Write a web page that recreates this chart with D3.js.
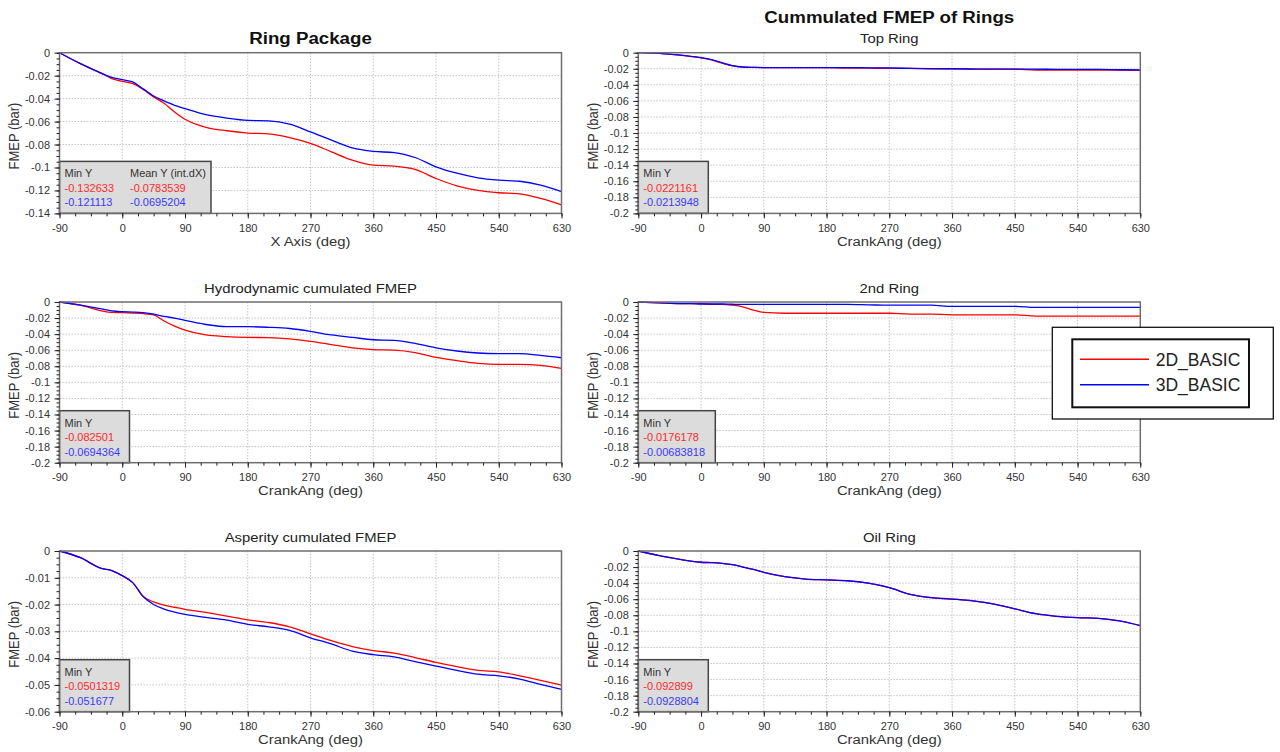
<!DOCTYPE html>
<html>
<head>
<meta charset="utf-8">
<script src="https://cdn.jsdelivr.net/npm/d3@7"></script>
<style>
  html, body { margin: 0; padding: 0; background: #fff; }
  svg { display: block; font-family: Arial, "Liberation Sans", sans-serif; }
</style>
</head>
<body>
<div id="chart"></div>
<script>
// Data
const crank = [-90, -60, -30, -15, 0, 15, 30, 45, 60, 75, 90, 120, 150, 180, 210, 240, 270, 300, 330, 360, 390, 420, 450, 480, 510, 540, 570, 600, 630];

const ringPackage2D = [0, -0.0095, -0.018, -0.0225, -0.025, -0.027, -0.032, -0.0385, -0.044, -0.0516, -0.058, -0.065, -0.068, -0.070, -0.0708, -0.074, -0.079, -0.0864, -0.0936, -0.098, -0.0988, -0.1017, -0.1096, -0.116, -0.120, -0.122, -0.123, -0.127, -0.1326];
const ringPackage3D = [0, -0.0095, -0.0178, -0.0215, -0.0235, -0.0255, -0.0315, -0.0377, -0.042, -0.0458, -0.0487, -0.054, -0.057, -0.059, -0.0594, -0.0623, -0.069, -0.0762, -0.083, -0.086, -0.087, -0.0913, -0.0994, -0.105, -0.109, -0.111, -0.112, -0.1154, -0.1211];

const topRing2D = [0, -0.0008, -0.003, -0.0045, -0.0065, -0.009, -0.013, -0.0165, -0.018, -0.0183, -0.0185, -0.0185, -0.0185, -0.0185, -0.0192, -0.0192, -0.0195, -0.0195, -0.020, -0.020, -0.0205, -0.0205, -0.0205, -0.0215, -0.0215, -0.0215, -0.0215, -0.0215, -0.0221];
const topRing3D = [0, -0.0008, -0.003, -0.0045, -0.006, -0.0085, -0.0125, -0.016, -0.0178, -0.0183, -0.0185, -0.0185, -0.0185, -0.0185, -0.0185, -0.0188, -0.019, -0.0195, -0.0198, -0.020, -0.0203, -0.0205, -0.0205, -0.0205, -0.0207, -0.0207, -0.0208, -0.0212, -0.0214];

const hydro2D = [0, -0.004, -0.011, -0.013, -0.0133, -0.0138, -0.0145, -0.016, -0.0236, -0.030, -0.035, -0.041, -0.043, -0.044, -0.0444, -0.046, -0.049, -0.053, -0.057, -0.0593, -0.060, -0.063, -0.069, -0.073, -0.0763, -0.0776, -0.0776, -0.0788, -0.0825];
const hydro3D = [0, -0.004, -0.0085, -0.011, -0.012, -0.0125, -0.0133, -0.015, -0.018, -0.020, -0.023, -0.028, -0.0307, -0.0307, -0.0315, -0.033, -0.0365, -0.041, -0.044, -0.047, -0.0477, -0.0515, -0.057, -0.061, -0.0635, -0.0643, -0.0643, -0.0664, -0.0694];

const secondRing2D = [0, -0.001, -0.002, -0.002, -0.002, -0.003, -0.003, -0.004, -0.006, -0.010, -0.013, -0.014, -0.014, -0.014, -0.014, -0.014, -0.014, -0.015, -0.015, -0.016, -0.016, -0.016, -0.016, -0.0175, -0.0175, -0.0175, -0.0175, -0.0176, -0.0176];
const secondRing3D = [0, -0.001, -0.002, -0.002, -0.0025, -0.0025, -0.0025, -0.0028, -0.003, -0.003, -0.003, -0.003, -0.003, -0.003, -0.003, -0.0035, -0.004, -0.004, -0.004, -0.0055, -0.0055, -0.0055, -0.0055, -0.0068, -0.0068, -0.0068, -0.0068, -0.0068, -0.0068];

const asperity2D = [0, -0.0025, -0.0065, -0.0073, -0.0092, -0.0118, -0.017, -0.019, -0.0202, -0.021, -0.0218, -0.0229, -0.0243, -0.0257, -0.0267, -0.0283, -0.0309, -0.0335, -0.0357, -0.0372, -0.0381, -0.0398, -0.0416, -0.0432, -0.0446, -0.0451, -0.0466, -0.0483, -0.0501];
const asperity3D = [0, -0.0025, -0.0065, -0.0073, -0.0092, -0.0118, -0.017, -0.020, -0.0217, -0.0228, -0.0237, -0.0248, -0.0258, -0.0274, -0.0283, -0.0296, -0.0324, -0.0347, -0.0374, -0.0387, -0.0395, -0.0413, -0.043, -0.0446, -0.046, -0.0466, -0.0478, -0.0498, -0.0517];

const oilRing2D = [0, -0.0058, -0.0104, -0.0125, -0.014, -0.0145, -0.0154, -0.017, -0.020, -0.023, -0.0266, -0.032, -0.035, -0.036, -0.0372, -0.040, -0.0456, -0.054, -0.058, -0.0598, -0.0622, -0.066, -0.072, -0.078, -0.0813, -0.083, -0.0838, -0.087, -0.0929];
const oilRing3D = [0, -0.0058, -0.0104, -0.0125, -0.014, -0.0145, -0.0154, -0.017, -0.020, -0.023, -0.0266, -0.032, -0.035, -0.036, -0.037, -0.040, -0.0456, -0.054, -0.058, -0.0598, -0.062, -0.066, -0.072, -0.078, -0.0813, -0.083, -0.0838, -0.087, -0.0929];

const series2D = [ringPackage2D, topRing2D, hydro2D, secondRing2D, asperity2D, oilRing2D];
const series3D = [ringPackage3D, topRing3D, hydro3D, secondRing3D, asperity3D, oilRing3D];

const panelTitles = ["Ring Package", "Top Ring", "Hydrodynamic cumulated FMEP", "2nd Ring", "Asperity cumulated FMEP", "Oil Ring"];
const mainTitle = "Cummulated FMEP of Rings";
const xAxisTitles = ["X Axis (deg)", "CrankAng (deg)", "CrankAng (deg)", "CrankAng (deg)", "CrankAng (deg)", "CrankAng (deg)"];
const yAxisTitle = "FMEP (bar)";
const yLowest = [-0.14, -0.2, -0.2, -0.2, -0.06, -0.2];
const yMajorStep = [0.02, 0.02, 0.02, 0.02, 0.01, 0.02];
const xTickValues = [-90, 0, 90, 180, 270, 360, 450, 540, 630];

const minY2D = ["-0.132633", "-0.0221161", "-0.082501", "-0.0176178", "-0.0501319", "-0.092899"];
const minY3D = ["-0.121113", "-0.0213948", "-0.0694364", "-0.00683818", "-0.051677", "-0.0928804"];
const meanY2D = "-0.0783539";
const meanY3D = "-0.0695204";

const legendNames = ["2D_BASIC", "3D_BASIC"];
const colors = ["#ff0000", "#0000ff"];
const textColors = ["#ff2a2a", "#3a3aff"];

// Layout
const W = 1280, H = 752;
const colX = [59.5, 638.3];
const rowY = [52.7, 302, 551];
const pw = 502, ph = 160.7;
const infoW = [151.5, 70, 70, 77, 70, 70];
const infoH = 52;
const sx = 1.1; // the original picture is slightly stretched sideways

const svg = d3.select("#chart").append("svg")
  .attr("width", W).attr("height", H);

function placeText(sel, x, y, rot) {
  return sel.attr("transform", rot
    ? `translate(${x},${y}) rotate(-90) scale(1,${sx})`
    : `translate(${x},${y}) scale(${sx},1)`);
}

const fmt = v => String(+v.toFixed(4));

panelTitles.forEach((title, i) => {
  const left = colX[i % 2], top = rowY[Math.floor(i / 2)];
  const g = svg.append("g");

  const x = d3.scaleLinear().domain([-90, 630]).range([left, left + pw]);
  const y = d3.scaleLinear().domain([yLowest[i], 0]).range([top + ph, top]);

  const step = yMajorStep[i];
  const yMajor = d3.range(0, Math.round(-yLowest[i] / step) + 1).map(k => -k * step);
  const yMinor = d3.range(0, Math.round(-yLowest[i] / step) * 4 + 1).map(k => -k * step / 4);
  const xMinor = d3.range(-90, 630.1, 22.5);

  // grid
  g.append("g").selectAll("line").data(xTickValues.slice(1, -1)).join("line")
    .attr("x1", d => x(d)).attr("x2", d => x(d))
    .attr("y1", top).attr("y2", top + ph)
    .attr("stroke", "#c4c4c4").attr("stroke-dasharray", "1.5,1.5");
  g.append("g").selectAll("line").data(yMajor.slice(1, -1)).join("line")
    .attr("x1", left).attr("x2", left + pw)
    .attr("y1", d => y(d)).attr("y2", d => y(d))
    .attr("stroke", "#c4c4c4").attr("stroke-dasharray", "1.5,1.5");

  // lines
  const line = d3.line().x((d, k) => x(crank[k])).y(d => y(d)).curve(d3.curveMonotoneX);
  [series2D[i], series3D[i]].forEach((vals, s) => {
    g.append("path").datum(vals)
      .attr("d", line)
      .attr("fill", "none")
      .attr("stroke", colors[s])
      .attr("stroke-width", 1.3);
  });

  // info box
  g.append("rect")
    .attr("x", left).attr("y", top + ph - infoH)
    .attr("width", infoW[i]).attr("height", infoH)
    .attr("fill", "#dcdcdc").attr("stroke", "#444").attr("stroke-width", 1.5);
  const infoRows = [["Min Y", minY2D[i], minY3D[i]]];
  if (i === 0) infoRows.push(["Mean Y (int.dX)", meanY2D, meanY3D]);
  infoRows.forEach((col, c) => {
    const tx = left + 5 + c * 65.5;
    col.forEach((txt, r) => {
      placeText(g.append("text"), tx, top + ph - infoH + 16 + r * 14.4)
        .attr("font-size", 10)
        .attr("fill", r === 0 ? "#333" : textColors[r - 1])
        .text(txt);
    });
  });

  // frame
  g.append("rect")
    .attr("x", left).attr("y", top).attr("width", pw).attr("height", ph)
    .attr("fill", "none").attr("stroke", "#6e6e6e").attr("stroke-width", 1.5);

  // axes
  const xAxis = g.append("g").attr("transform", `translate(0,${top + ph})`)
    .call(d3.axisBottom(x).tickValues(xTickValues).tickSize(5).tickSizeOuter(0).tickFormat(d => String(d)));
  g.append("g").attr("transform", `translate(0,${top + ph})`)
    .call(d3.axisBottom(x).tickValues(xMinor).tickSize(3).tickFormat(""))
    .select(".domain").remove();
  const yAxis = g.append("g").attr("transform", `translate(${left},0)`)
    .call(d3.axisLeft(y).tickValues(yMajor).tickSize(5).tickSizeOuter(0).tickFormat(fmt));
  g.append("g").attr("transform", `translate(${left},0)`)
    .call(d3.axisLeft(y).tickValues(yMinor).tickSize(3).tickFormat(""))
    .select(".domain").remove();

  g.selectAll(".domain").remove();
  g.selectAll(".tick line").attr("stroke", "#222").attr("stroke-width", 1);

  xAxis.selectAll(".tick text").each(function(d) {
    const t = d3.select(this);
    t.attr("y", null).attr("dy", null);
    placeText(t, 0, 18.3);
  }).attr("font-size", 10).attr("fill", "#333").attr("font-family", null);
  yAxis.selectAll(".tick text").each(function(d) {
    const t = d3.select(this);
    t.attr("x", null).attr("dy", "0.35em");
    placeText(t, -9.5, 0);
  }).attr("font-size", 10).attr("fill", "#333").attr("font-family", null);

  // axis titles
  placeText(g.append("text"), left + pw / 2, top + ph + 32.5)
    .attr("text-anchor", "middle").attr("font-size", 13.5).attr("fill", "#333")
    .text(xAxisTitles[i]);
  placeText(g.append("text"), left - 40.5, top + ph / 2 + 3, true)
    .attr("text-anchor", "middle").attr("font-size", 13).attr("fill", "#333")
    .text(yAxisTitle);

  // titles
  if (i === 0) {
    placeText(g.append("text"), left + pw / 2, top - 8.7)
      .attr("text-anchor", "middle").attr("font-size", 17).attr("font-weight", "bold").attr("fill", "#111")
      .text(title);
  } else {
    placeText(g.append("text"), left + pw / 2, top - 9.4)
      .attr("text-anchor", "middle").attr("font-size", 13.5).attr("fill", "#222")
      .text(title);
  }
  if (i === 1) {
    placeText(g.append("text"), left + pw / 2, 23.3)
      .attr("text-anchor", "middle").attr("font-size", 17).attr("font-weight", "bold").attr("fill", "#111")
      .text(mainTitle);
  }
});

// Legend
const lg = svg.append("g");
lg.append("rect").attr("x", 1052.3).attr("y", 327.3).attr("width", 221).attr("height", 91.7)
  .attr("fill", "#fff").attr("stroke", "#111").attr("stroke-width", 1.3);
lg.append("rect").attr("x", 1072.3).attr("y", 339.3).attr("width", 176.7).attr("height", 68)
  .attr("fill", "#fff").attr("stroke", "#111").attr("stroke-width", 2);
legendNames.forEach((name, k) => {
  const ly = 359.3 + k * 25.4;
  lg.append("line").attr("x1", 1080).attr("x2", 1149).attr("y1", ly).attr("y2", ly)
    .attr("stroke", colors[k]).attr("stroke-width", 1.5);
  lg.append("text").attr("x", 1155.7).attr("y", ly + 6.5)
    .attr("font-size", 17.5).attr("fill", "#222").text(name);
});
</script>
</body>
</html>
